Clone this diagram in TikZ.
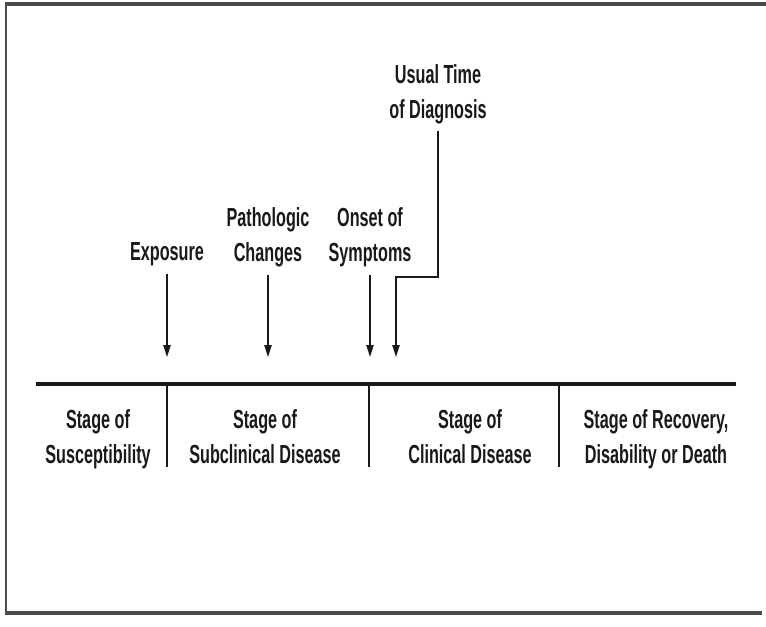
\documentclass[tikz,border=0pt]{standalone}
\usepackage{fontspec}
\setmainfont{Liberation Sans}[FakeStretch=0.62]
\usetikzlibrary{arrows.meta,positioning}
\definecolor{framegray}{RGB}{75,75,75}
\definecolor{inkdk}{RGB}{25,25,25}

\begin{document}
\begin{tikzpicture}[x=0.75pt,y=-0.75pt, % pixel units, y down
    mylabel/.style={
      font={\bfseries\fontsize{19.6}{26.25}\selectfont},
      text=inkdk,
      align=center,
      inner sep=0pt,
      anchor=north
    },
    stage/.style={mylabel},
    event/.style={-{Triangle[length=9pt,width=5.5pt]}, line width=1.1pt, inkdk},
    timeline/.style={line width=3.2pt, inkdk},
    divider/.style={line width=1.8pt, inkdk},
    frameline/.style={framegray, line width=#1},
    frameline/.default=1pt
  ]
  \useasboundingbox (0,0) rectangle (766,627);

  %% frame
  \draw[frameline=2.8pt] (5,4) -- (766,4);
  \draw[frameline=0.8pt] (6,4) -- (6,612);
  \draw[frameline=3.6pt] (5,613) -- (762,613);

  %% time line and stage dividers
  \coordinate (tl-start) at (36,384);
  \coordinate (tl-end) at (736,384);
  \draw[timeline] (tl-start) -- (tl-end);
  \foreach \x/\name in {167/expo, 369/onset, 559/clin} {
    \coordinate (div-\name) at (\x,384);
    \draw[divider] (div-\name) -- ++(0,83);
  }

  %% stages
  \node[stage] (susc) at (98,409)  {Stage of\\Susceptibility};
  \node[stage] (subcl) at (265,409) {Stage of\\Subclinical Disease};
  \node[stage] (clinic) at (470,409) {Stage of\\Clinical Disease};
  \node[stage] (recov) at (656,409) {Stage of Recovery,\\Disability or Death};

  %% events
  \node[mylabel] (exposure) at (167,242) {Exposure};
  \node[mylabel] (patho) at (268,207) {Pathologic\\Changes};
  \node[mylabel] (symptoms) at (370,207) {Onset of\\Symptoms};
  \node[mylabel] (diagnosis) at (438,64) {Usual Time\\of Diagnosis};

  \coordinate (exposure-tip) at (167,357);
  \coordinate (patho-tip) at (268,357);
  \coordinate (symptoms-tip) at (370,357);
  \coordinate (elbow) at (396,277);
  \coordinate (diagnosis-tip) at (396,357);

  \draw[event, shorten <=6pt] (exposure.south) -- (exposure-tip);
  \draw[event, shorten <=6pt] (patho.south) -- (patho-tip);
  \draw[event, shorten <=6pt] (symptoms.south) -- (symptoms-tip);
  \draw[event, shorten <=5pt] (diagnosis.south) |- (elbow) -- (diagnosis-tip);

\end{tikzpicture}
\end{document}
